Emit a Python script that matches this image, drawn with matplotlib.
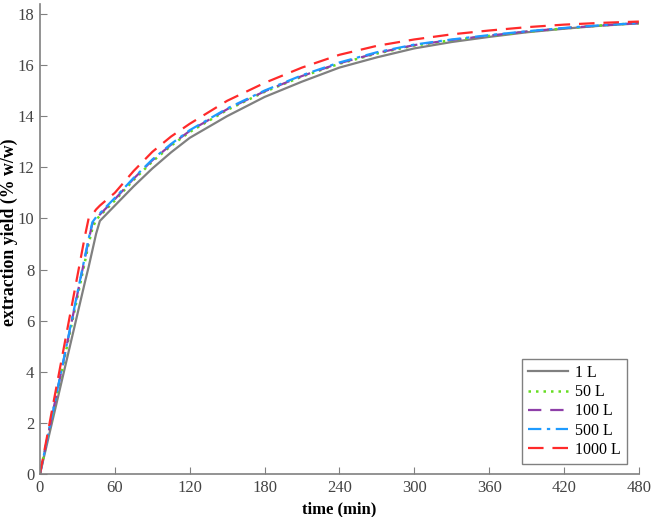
import numpy as np
import matplotlib.pyplot as plt

plt.rcParams['font.family'] = ['Liberation Serif', 'DejaVu Serif']

# time (min)
t = [0, 36, 39, 42, 45, 48, 60, 75, 90, 105, 120, 150, 180, 210, 240, 270, 300,
     330, 360, 390, 420, 450, 480]

# extraction yield (% w/w) for each extractor volume
y_1L = [0, 7.5, 8.1, 8.75, 9.4, 9.9, 10.5, 11.25, 11.95, 12.58, 13.15, 14.0, 14.75,
        15.35, 15.9, 16.3, 16.65, 16.9, 17.1, 17.28, 17.42, 17.54, 17.63]
y_50L = [0, 8.3, 9.0, 9.6, 9.95, 10.1, 10.7, 11.5, 12.22, 12.84, 13.38, 14.24, 14.95,
         15.55, 16.05, 16.45, 16.76, 16.97, 17.14, 17.3, 17.43, 17.55, 17.64]
y_100L = [0, 8.45, 9.15, 9.8, 10.0, 10.15, 10.75, 11.55, 12.27, 12.88, 13.42, 14.27, 14.97,
          15.57, 16.07, 16.47, 16.78, 16.98, 17.15, 17.31, 17.44, 17.55, 17.64]
y_500L = [0, 8.5, 9.2, 9.85, 10.05, 10.2, 10.8, 11.58, 12.3, 12.91, 13.45, 14.3, 15.0,
          15.6, 16.1, 16.5, 16.8, 17.0, 17.17, 17.32, 17.45, 17.56, 17.64]
y_1000L = [0, 9.3, 10.0, 10.15, 10.35, 10.5, 11.0, 11.85, 12.6, 13.2, 13.7, 14.6, 15.3,
           15.9, 16.4, 16.75, 17.0, 17.2, 17.35, 17.48, 17.58, 17.65, 17.7]

fig = plt.figure(figsize=(6.51, 5.17), dpi=100)
ax = fig.add_axes([0.0614, 0.0832, 0.92, 0.9097])

ax.plot(t, y_1L, color='#808080', lw=1.6, ls='-', label='1 L')
ax.plot(t, y_50L, color='#66dd22', lw=1.8, ls=(0, (1, 2)), label='50 L')
ax.plot(t, y_100L, color='#8e3fa8', lw=1.6, ls=(0, (6, 4)), label='100 L')
ax.plot(t, y_500L, color='#1e9bff', lw=1.6, ls=(0, (6, 2.5, 1.5, 2.5)), label='500 L')
ax.plot(t, y_1000L, color='#ff2a2a', lw=1.6, ls=(0, (7, 4)), label='1000 L')

ax.set_xlim(0, 480)
ax.set_ylim(0, 18.4)
ax.set_xticks(np.arange(0, 481, 60))
ax.set_yticks(np.arange(0, 19, 2))

for s in ['top', 'right']:
    ax.spines[s].set_visible(False)
for s in ['left', 'bottom']:
    ax.spines[s].set_color('#808080')
    ax.spines[s].set_linewidth(1.2)
ax.tick_params(direction='in', color='#808080', labelcolor='#444444',
               labelsize=12, length=5, pad=4)

ax.set_xlabel('time (min)', fontsize=12, fontweight='bold', labelpad=4)
ax.set_ylabel('extraction yield (% w/w)', fontsize=12.8, fontweight='bold')
ax.yaxis.set_label_coords(-0.036, 0.513)

leg = ax.legend(loc='lower right', bbox_to_anchor=(0.98, 0.021), borderaxespad=0,
                fontsize=11.5, fancybox=False, framealpha=1, edgecolor='#808080',
                handlelength=2.5, borderpad=0.4, labelspacing=0.2, handletextpad=0.4)
leg.get_frame().set_linewidth(1.0)

fig.savefig('out.png', dpi=100)
